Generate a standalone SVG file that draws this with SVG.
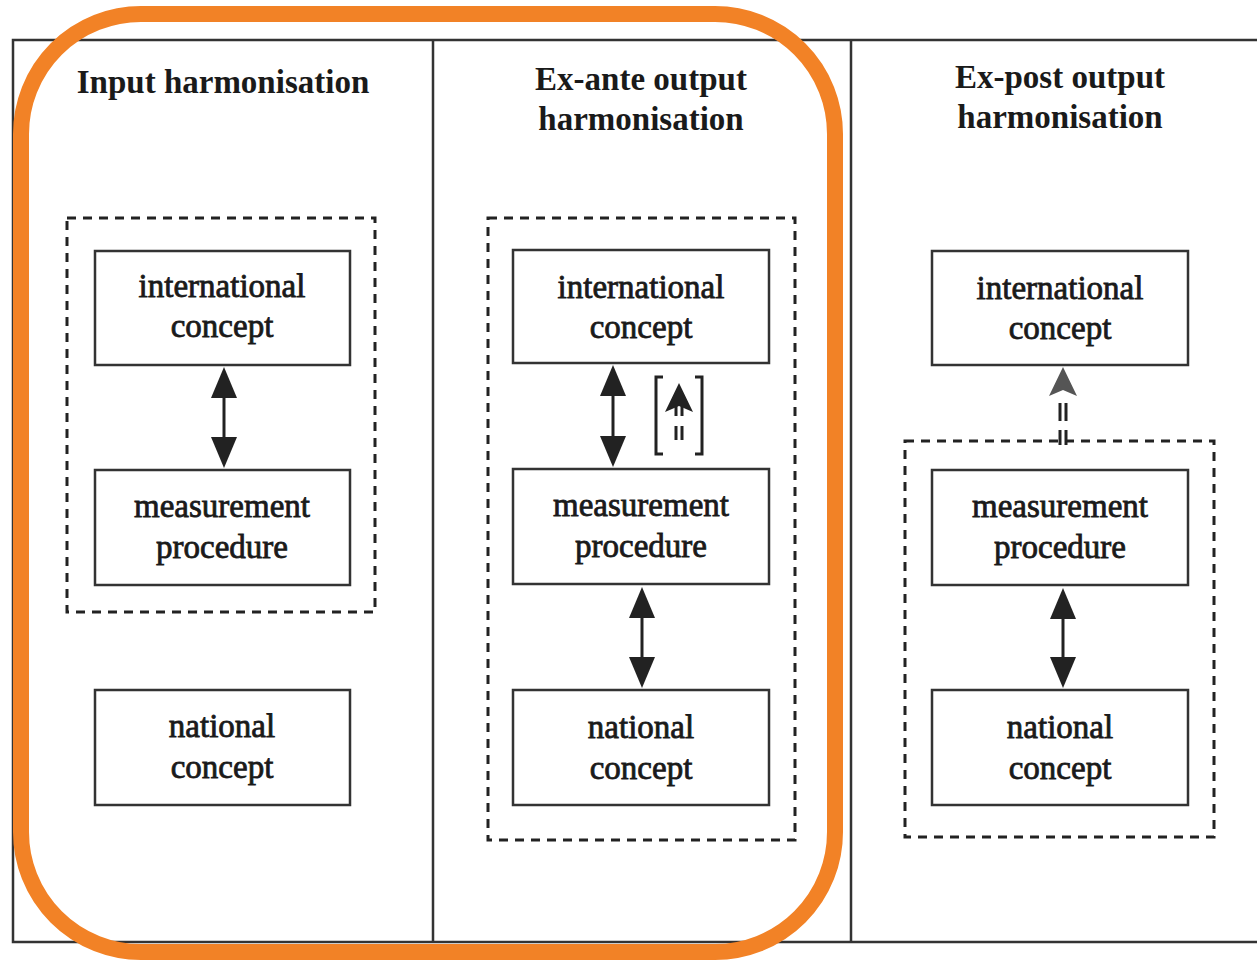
<svg xmlns="http://www.w3.org/2000/svg" width="1257" height="961" viewBox="0 0 1257 961">
<style>
.frame{fill:none;stroke:#333;stroke-width:2.5}
.box{fill:#fff;stroke:#333;stroke-width:2.5}
.dash{fill:none;stroke:#222;stroke-width:3;stroke-dasharray:9 7}
.title{font-family:"Liberation Serif",serif;font-weight:bold;font-size:33px;fill:#1a1a1a;text-anchor:middle}
.lbl{font-family:"Liberation Serif",serif;font-size:33px;fill:#1a1a1a;text-anchor:middle;stroke:#1a1a1a;stroke-width:0.8}
.line{stroke:#222;stroke-width:3;fill:none}
.head{fill:#222}
</style>
<rect width="1257" height="961" fill="#fff"/>
<g id="frame">
<path class="frame" d="M1257 40 H13 V942 H1257"/>
<line class="frame" x1="433" y1="40" x2="433" y2="942"/>
<line class="frame" x1="851" y1="40" x2="851" y2="942"/>
</g>
<g id="titles">
<text class="title" x="223" y="93">Input harmonisation</text>
<text class="title" x="641" y="90">Ex-ante output</text>
<text class="title" x="641" y="130">harmonisation</text>
<text class="title" x="1060" y="88">Ex-post output</text>
<text class="title" x="1060" y="128">harmonisation</text>
</g>
<g id="dashed-groups">
<rect class="dash" x="67" y="218" width="308" height="394"/>
<rect class="dash" x="488" y="218" width="307" height="622"/>
<rect class="dash" x="905" y="441" width="309" height="396"/>
</g>
<g id="c1-international"><rect class="box" x="95" y="251" width="255" height="114"/><text class="lbl" x="222" y="297">international</text><text class="lbl" x="222" y="337">concept</text></g>
<g id="c1-measurement"><rect class="box" x="95" y="470" width="255" height="115"/><text class="lbl" x="222" y="517">measurement</text><text class="lbl" x="222" y="558">procedure</text></g>
<g id="c1-national"><rect class="box" x="95" y="690" width="255" height="115"/><text class="lbl" x="222" y="737">national</text><text class="lbl" x="222" y="778">concept</text></g>
<g id="c2-international"><rect class="box" x="513" y="250" width="256" height="113"/><text class="lbl" x="641" y="298">international</text><text class="lbl" x="641" y="338">concept</text></g>
<g id="c2-measurement"><rect class="box" x="513" y="469" width="256" height="115"/><text class="lbl" x="641" y="516">measurement</text><text class="lbl" x="641" y="557">procedure</text></g>
<g id="c2-national"><rect class="box" x="513" y="690" width="256" height="115"/><text class="lbl" x="641" y="738">national</text><text class="lbl" x="641" y="779">concept</text></g>
<g id="c3-international"><rect class="box" x="932" y="251" width="256" height="114"/><text class="lbl" x="1060" y="299">international</text><text class="lbl" x="1060" y="339">concept</text></g>
<g id="c3-measurement"><rect class="box" x="932" y="470" width="256" height="115"/><text class="lbl" x="1060" y="517">measurement</text><text class="lbl" x="1060" y="558">procedure</text></g>
<g id="c3-national"><rect class="box" x="932" y="690" width="256" height="115"/><text class="lbl" x="1060" y="738">national</text><text class="lbl" x="1060" y="779">concept</text></g>
<g id="connectors">
<line class="line" x1="224" y1="390" x2="224" y2="445"/>
<path class="head" d="M224 367 L237 398 L211 398 Z"/>
<path class="head" d="M224 468 L237 437 L211 437 Z"/>
<line class="line" x1="613" y1="390" x2="613" y2="445"/>
<path class="head" d="M613 365 L626 396 L600 396 Z"/>
<path class="head" d="M613 467 L626 436 L600 436 Z"/>
<line class="line" x1="642" y1="610" x2="642" y2="665"/>
<path class="head" d="M642 587 L655 618 L629 618 Z"/>
<path class="head" d="M642 688 L655 657 L629 657 Z"/>
<line class="line" x1="1063" y1="610" x2="1063" y2="665"/>
<path class="head" d="M1063 588 L1076 619 L1050 619 Z"/>
<path class="head" d="M1063 688 L1076 657 L1050 657 Z"/>
<path d="M663 377 H656 V454 H663" fill="none" stroke="#222" stroke-width="3"/>
<path d="M695 377 H702 V454 H695" fill="none" stroke="#222" stroke-width="3"/>
<line x1="676" y1="400" x2="676" y2="416" stroke="#222" stroke-width="3"/>
<line x1="682" y1="400" x2="682" y2="416" stroke="#222" stroke-width="3"/>
<path class="head" d="M679 383 L693 412 L679 406 L665 412 Z"/>
<line x1="676" y1="426" x2="676" y2="440" stroke="#222" stroke-width="3"/>
<line x1="682" y1="426" x2="682" y2="440" stroke="#222" stroke-width="3"/>
<path d="M1063 367 L1077 396 L1063 390 L1049 396 Z" fill="#555"/>
<line x1="1060" y1="403" x2="1060" y2="421" stroke="#222" stroke-width="3"/>
<line x1="1066" y1="403" x2="1066" y2="421" stroke="#222" stroke-width="3"/>
<line x1="1060" y1="430" x2="1060" y2="445" stroke="#222" stroke-width="3"/>
<line x1="1066" y1="430" x2="1066" y2="445" stroke="#222" stroke-width="3"/>
</g>
<g id="highlight">
<rect x="21" y="14" width="814" height="938" rx="120" ry="120" fill="none" stroke="#f28226" stroke-width="16"/>
</g>
</svg>
